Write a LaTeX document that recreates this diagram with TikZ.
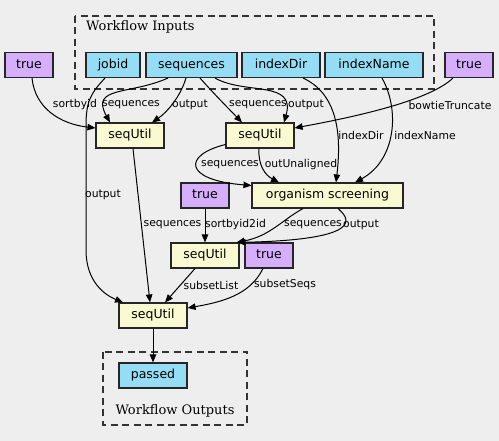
\documentclass[tikz,border=0pt]{standalone}
\usepackage{fontspec}
\setmainfont{DejaVu Sans}
\newfontfamily\clusterfont{DejaVu Serif}
\usetikzlibrary{arrows.meta}
\definecolor{bgc}{HTML}{EEEEEE}
\definecolor{inc}{HTML}{94DDF4}
\definecolor{tc}{HTML}{D5AEFC}
\definecolor{sc}{HTML}{FAFAD2}
\tikzset{
  box/.style={draw=black!85, line width=1.1pt, inner sep=0pt, font=\fontsize{12.5}{14}\selectfont, anchor=center, minimum height=25pt, text height=9.5pt, text depth=2.5pt},
  inbox/.style={box, fill=inc},
  truebox/.style={box, fill=tc, minimum width=48pt},
  stepbox/.style={box, fill=sc},
  edge/.style={line width=1pt, -{Triangle[length=8pt,width=6.5pt]}},
  lbl/.style={font=\fontsize{10.8}{12}\selectfont, inner sep=0pt, fill=none},
  cluster/.style={draw=black!80, line width=1.1pt, dash pattern=on 7pt off 4.5pt},
  ctitle/.style={font=\clusterfont\fontsize{13}{14}\selectfont, inner sep=0pt}
}
\begin{document}
\begin{tikzpicture}[x=1pt,y=-1pt]
\fill[bgc] (0,0) rectangle (499,441);
\useasboundingbox (0,0) rectangle (499,441);
% clusters
\draw[cluster] (75,16) rectangle (434,89);
\node[ctitle, anchor=west] (tin) at (86,27) {Workflow Inputs};
\draw[cluster] (103,352) rectangle (247,425);
\node[ctitle] (tout) at (175,411) {Workflow Outputs};
% nodes
\node[truebox] (t1) at (29,65) {true};
\node[inbox, minimum width=54pt] (jobid) at (113,65) {jobid};
\node[inbox, minimum width=91pt] (seqs) at (191.5,65) {sequences};
\node[inbox, minimum width=78pt] (idir) at (281,65) {indexDir};
\node[inbox, minimum width=98pt] (iname) at (374,65) {indexName};
\node[truebox] (t2) at (469,65) {true};
\node[stepbox, minimum width=68pt] (s1) at (130,135.5) {seqUtil};
\node[stepbox, minimum width=68pt] (s2) at (260,135.5) {seqUtil};
\node[stepbox, minimum width=151pt] (org) at (327.5,195.5) {organism screening};
\node[truebox] (t3) at (205,195.5) {true};
\node[stepbox, minimum width=68pt] (s3) at (205,255.5) {seqUtil};
\node[truebox] (t4) at (269,255.5) {true};
\node[stepbox, minimum width=68pt] (s4) at (153,315.5) {seqUtil};
\node[inbox, minimum width=68pt] (passed) at (153,375.5) {passed};
% edges
\draw[edge] ([xshift=3pt]t1.south) .. controls (35,108) and (60,124) .. ([yshift=7.5pt]s1.west);
\node[lbl] at (75,105) {sortbyid};
\draw[edge] ([xshift=-8pt]jobid.south) .. controls (92,92) and (86,100) .. (86,125) -- (86,250) .. controls (86,282) and (105,295) .. ([xshift=-30pt]s4.north);
\node[lbl] at (103,195) {output};
\draw[edge] ([xshift=-23.5pt]seqs.south) .. controls (130,95) and (90,86) .. ([xshift=-20pt]s1.north);
\node[lbl] at (131,105) {sequences};
\draw[edge] ([xshift=-5.5pt]seqs.south) .. controls (180,98) and (166,113) .. ([xshift=22pt]s1.north);
\node[lbl] at (190,105) {output};
\draw[edge] ([xshift=8.5pt]seqs.south) .. controls (215,95) and (230,110) .. ([xshift=-18pt]s2.north);
\node[lbl] at (258,105) {sequences};
\draw[edge] ([xshift=23.5pt]seqs.south) .. controls (245,95) and (296,80) .. ([xshift=24pt]s2.north);
\node[lbl] at (306,105) {output};
\draw[edge] ([xshift=22pt]idir.south) .. controls (340,95) and (341,140) .. ([xshift=8.5pt]org.north);
\node[lbl] at (361,135) {indexDir};
\draw[edge] ([xshift=8pt]iname.south) .. controls (400,110) and (396,160) .. ([xshift=27.5pt]org.north);
\node[lbl] at (425,135) {indexName};
\draw[edge] ([xshift=-16pt]t2.south) .. controls (430,100) and (360,116) .. ([yshift=7.5pt]s2.east);
\node[lbl] at (450,105) {bowtieTruncate};
\draw[edge] ([yshift=-9pt]s2.west) .. controls (183,155) and (183,180) .. ([yshift=10pt]org.west);
\node[lbl] at (230,165) {sequences};
\draw[edge] ([xshift=-1pt]s2.south) .. controls (258,165) and (265,175) .. ([xshift=-48.5pt]org.north);
\node[lbl] at (301,165) {outUnaligned};
\draw[edge] ([xshift=3pt]s1.south) -- ([xshift=-3pt]s4.north);
\node[lbl] at (172.5,225) {sequences};
\draw[edge] (t3) -- (s3);
\node[lbl] at (235.5,225) {sortbyid2id};
\draw[edge] ([xshift=-24.5pt]org.south) .. controls (282,220) and (270,236) .. ([xshift=-3pt]s3.north east);
\node[lbl] at (313,225) {sequences};
\draw[edge] ([xshift=10.5pt]org.south) .. controls (358,225) and (345,240) .. ([xshift=-2pt]s3.north east);
\node[lbl] at (361,225) {output};
\draw[edge] ([xshift=-10pt]s3.south) -- ([xshift=12pt]s4.north);
\node[lbl] at (211,285) {subsetList};
\draw[edge] ([xshift=-6pt]t4.south) .. controls (250,295) and (222,302) .. ([yshift=7.5pt]s4.east);
\node[lbl] at (285,285) {subsetSeqs};
\draw[edge] (s4) -- (passed);
\end{tikzpicture}
\end{document}
